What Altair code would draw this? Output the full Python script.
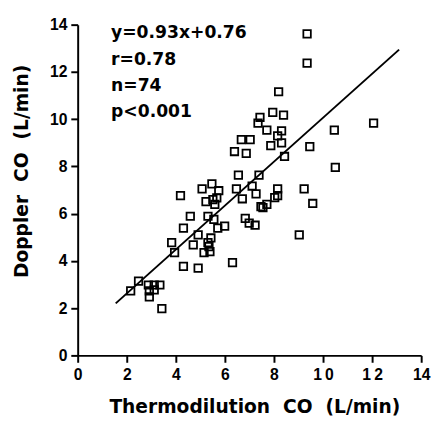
import altair as alt
import pandas as pd

# Thermodilution CO (x) and Doppler CO (y)
thermo_co = [9.35, 9.35, 8.19, 7.95, 8.39, 7.43, 7.35, 7.71, 8.31, 8.15,
             8.31, 7.87, 6.67, 7.03, 6.39, 6.87, 8.43, 9.46, 10.46, 12.06,
             10.50, 6.55, 7.39, 5.07, 5.47, 5.75, 6.47, 7.11, 7.27, 8.15,
             8.15, 9.23, 9.58, 6.71, 5.23, 5.51, 5.59, 4.19, 4.59, 5.31,
             5.55, 4.31, 5.71, 5.99, 4.91, 4.71, 3.83, 3.95, 4.31, 4.91,
             5.15, 5.39, 5.43, 5.31, 6.31, 6.83, 6.99, 7.23, 7.55, 7.71,
             9.03, 2.16, 2.48, 2.88, 3.12, 3.35, 2.92, 2.92, 3.43, 8.03,
             5.35, 3.12, 7.47, 5.67]
doppler_co = [13.61, 12.37, 11.16, 10.29, 10.17, 10.08, 9.83, 9.54, 9.50, 9.29,
              9.00, 8.88, 9.13, 9.13, 8.63, 8.55, 8.42, 8.84, 9.54, 9.83,
              7.96, 7.63, 7.63, 7.05, 7.26, 6.97, 7.05, 7.17, 6.84, 7.05,
              6.76, 7.05, 6.43, 6.63, 6.51, 6.59, 6.39, 6.76, 5.89, 5.89,
              5.76, 5.39, 5.39, 5.47, 5.10, 4.68, 4.77, 4.35, 3.77, 3.69,
              4.35, 4.39, 4.97, 4.77, 3.93, 5.80, 5.60, 5.51, 6.26, 6.39,
              5.10, 2.73, 3.14, 2.98, 2.98, 2.98, 2.73, 2.48, 1.98, 6.68,
              4.60, 2.77, 6.30, 6.67]

# Regression line y = 0.93x + 0.76, drawn over the fitted x range
slope = 0.93
intercept = 0.76
line_x = [1.55, 13.1]

stats_text = "y=0.93x+0.76\nr=0.78\nn=74\np<0.001"

axis_ticks = list(range(0, 15))

NB = "\u00a0"
x_title = f"Thermodilution{NB}{NB}CO{NB}{NB}(L/min)"
y_title = f"Doppler{NB}{NB}CO{NB}{NB}(L/min)"

pts = pd.DataFrame({"thermo": thermo_co, "doppler": doppler_co})
line_df = pd.DataFrame({"thermo": line_x})
text_df = pd.DataFrame({"label": [stats_text]})

x_scale = alt.Scale(domain=[0, 14], nice=False, zero=False)
y_scale = alt.Scale(domain=[0, 14], nice=False, zero=False)

tick_size = {"condition": {"test": "datum.value % 2 != 0", "value": 3.5}, "value": 7}

x_axis = alt.Axis(
    values=axis_ticks,
    labelExpr=("datum.value % 2 ? '' : (datum.value == 14 ? datum.label : "
               "(datum.value >= 10 ? substring(datum.label,0,1) + '\u2009' + substring(datum.label,1) : datum.label))"),
    tickSize=tick_size,
    tickWidth=2, tickColor="black",
    domainWidth=2, domainColor="black",
    grid=False, labelOverlap=False, labelFlush=False,
    labelFont="Liberation Sans", labelFontWeight="bold", labelFontSize=16,
    labelColor="black", labelPadding=5,
    title=x_title,
    titleFont="DejaVu Sans", titleFontWeight="bold", titleFontSize=19,
    titleColor="black", titleX=180, titleY=58, titleAlign="center",
    titleBaseline="alphabetic",
)
y_axis = alt.Axis(
    values=axis_ticks,
    labelExpr="datum.value % 2 ? '' : datum.label",
    tickSize=tick_size,
    tickWidth=2, tickColor="black",
    domainWidth=2, domainColor="black",
    grid=False, labelOverlap=False, labelFlush=False,
    labelFont="Liberation Sans", labelFontWeight="bold", labelFontSize=16,
    labelColor="black", labelPadding=4,
    title=y_title,
    titleFont="DejaVu Sans", titleFontWeight="bold", titleFontSize=19,
    titleColor="black", titleX=-51, titleY=149, titleAlign="center",
    titleBaseline="alphabetic",
)

points = alt.Chart(pts).mark_point(
    shape="square", filled=False, color="black", size=58, strokeWidth=1.8, opacity=1
).encode(
    x=alt.X("thermo:Q", scale=x_scale, axis=x_axis),
    y=alt.Y("doppler:Q", scale=y_scale, axis=y_axis),
)

line = alt.Chart(line_df).transform_calculate(
    doppler=f"{slope} * datum.thermo + {intercept}"
).mark_line(color="black", strokeWidth=2).encode(
    x=alt.X("thermo:Q", scale=x_scale),
    y=alt.Y("doppler:Q", scale=y_scale),
)

annot = alt.Chart(text_df).mark_text(
    align="left", baseline="alphabetic", font="DejaVu Sans", fontWeight="bold",
    fontSize=17.5, lineHeight=26.7, color="black", lineBreak="\n"
).encode(
    x=alt.value(34), y=alt.value(14), text="label:N"
)

chart = alt.layer(points, line, annot).properties(
    width=350, height=337,
    autosize=alt.AutoSizeParams(type="none"),
    padding={"left": 71, "top": 13, "right": 10, "bottom": 70},
    background="white",
).configure_view(stroke=None)

chart.save("out.html", embed_options={"renderer": "svg", "actions": False})
